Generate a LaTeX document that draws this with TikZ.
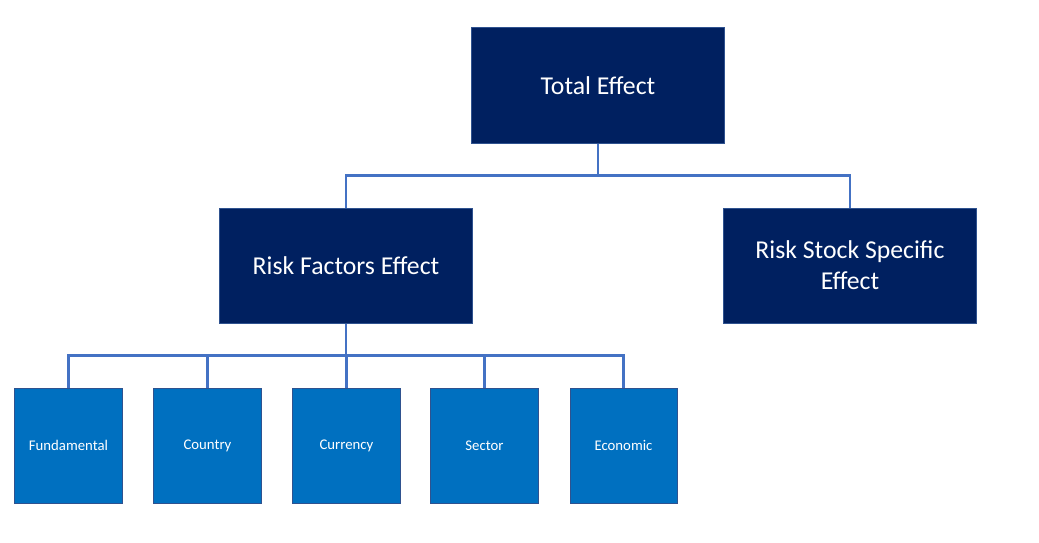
\documentclass[tikz,border=0pt]{standalone}
\usepackage{fontspec}
\setmainfont{Carlito}

\definecolor{navy}{HTML}{002060}
\definecolor{midblue}{HTML}{0070C0}
\definecolor{edgeblue}{HTML}{2F528F}
\definecolor{linkblue}{HTML}{4472C4}

\begin{document}
\begin{tikzpicture}[x=0.025cm,y=-0.025cm,
    bigbox/.style={draw=edgeblue,line width=0.7pt,fill=navy,text=white,
      minimum width=6.3cm,minimum height=2.875cm,align=center,
      font=\fontsize{18.3}{22}\selectfont},
    smallbox/.style={draw=edgeblue,line width=0.7pt,fill=midblue,text=white,
      minimum width=2.675cm,minimum height=2.875cm,
      font=\fontsize{10.5}{12}\selectfont},
    link/.style={draw=linkblue,line width=1.5pt}]

  \useasboundingbox (0,0) rectangle (1039,542);

  % top level and second level
  \node[bigbox] (total) at (598,85.5) {Total Effect};
  \node[bigbox] (factors) at (346,265.5) {Risk Factors Effect};
  \node[bigbox] (specific) at (850,265.5) {Risk Stock Specific\\Effect};

  % factor boxes along the bottom
  \foreach \nm/\xx/\txt in {fund/68.5/Fundamental, country/207.5/Country,
      currency/346.5/Currency, sector/484.5/Sector, economic/623.5/Economic}
  {
    \node[smallbox] (\nm) at (\xx,445.5) {\txt};
  }

  % elbow connectors
  \draw[link] (total.south) -- ++(0,32) coordinate (tbus);
  \draw[link] (tbus) -| (factors.north);
  \draw[link] (tbus) -| (specific.north);

  \draw[link] (factors.south) -- ++(0,32) coordinate (fbus);
  \foreach \nm in {fund,country,currency,sector,economic}
  {
    \draw[link] (fbus) -| (\nm.north);
  }

\end{tikzpicture}
\end{document}
